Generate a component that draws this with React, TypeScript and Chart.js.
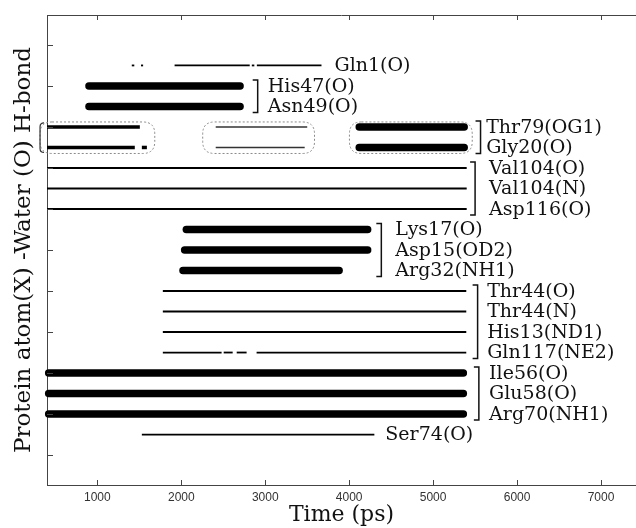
import { useEffect, useRef } from 'react';
import { Chart, registerables } from 'chart.js';

Chart.register(...registerables);

// Time axis (ps) and row tick positions
const xTicks = [1000, 2000, 3000, 4000, 5000, 6000, 7000];
const yTicks = [0, 2, 4, 6, 8, 10, 12, 14, 16, 18, 20];

// Protein atoms, top row first
const atoms = [
  'Gln1(O)', 'His47(O)', 'Asn49(O)', 'Thr79(OG1)', 'Gly20(O)',
  'Val104(O)', 'Val104(N)', 'Asp116(O)', 'Lys17(O)', 'Asp15(OD2)',
  'Arg32(NH1)', 'Thr44(O)', 'Thr44(N)', 'His13(ND1)', 'Gln117(NE2)',
  'Ile56(O)', 'Glu58(O)', 'Arg70(NH1)', 'Ser74(O)',
];

// H-bond lifetimes as [start, end] in ps
const gln1 = [[1410, 1440], [1520, 1545], [1920, 2815], [2840, 2870], [2900, 3670]];
const his47 = [[900, 2700]];
const asn49 = [[900, 2700]];
const thr79Early = [[400, 1506]];
const thr79Mid = [[2410, 3500]];
const thr79Late = [[4120, 5370]];
const gly20Early = [[400, 1446], [1530, 1590]];
const gly20Mid = [[2410, 3470]];
const gly20Late = [[4120, 5370]];
const val104O = [[400, 5400]];
const val104N = [[400, 5400]];
const asp116 = [[400, 5400]];
const lys17 = [[2060, 4220]];
const asp15 = [[2040, 4220]];
const arg32 = [[2020, 3880]];
const thr44O = [[1780, 5395]];
const thr44N = [[1780, 5395]];
const his13 = [[1780, 5395]];
const gln117 = [[1780, 2480], [2505, 2612], [2660, 2778], [2897, 5395]];
const ile56 = [[420, 5360]];
const glu58 = [[420, 5360]];
const arg70 = [[420, 5360]];
const ser74 = [[1530, 4300]];

type Weight = 'thin' | 'faint' | 'medium' | 'thick';

const traces: { atom: string; spans: number[][]; weight: Weight }[] = [
  { atom: 'Gln1(O)', spans: gln1, weight: 'thin' },
  { atom: 'His47(O)', spans: his47, weight: 'thick' },
  { atom: 'Asn49(O)', spans: asn49, weight: 'thick' },
  { atom: 'Thr79(OG1)', spans: thr79Early, weight: 'medium' },
  { atom: 'Thr79(OG1)', spans: thr79Mid, weight: 'faint' },
  { atom: 'Thr79(OG1)', spans: thr79Late, weight: 'thick' },
  { atom: 'Gly20(O)', spans: gly20Early, weight: 'medium' },
  { atom: 'Gly20(O)', spans: gly20Mid, weight: 'faint' },
  { atom: 'Gly20(O)', spans: gly20Late, weight: 'thick' },
  { atom: 'Val104(O)', spans: val104O, weight: 'thin' },
  { atom: 'Val104(N)', spans: val104N, weight: 'thin' },
  { atom: 'Asp116(O)', spans: asp116, weight: 'thin' },
  { atom: 'Lys17(O)', spans: lys17, weight: 'thick' },
  { atom: 'Asp15(OD2)', spans: asp15, weight: 'thick' },
  { atom: 'Arg32(NH1)', spans: arg32, weight: 'thick' },
  { atom: 'Thr44(O)', spans: thr44O, weight: 'thin' },
  { atom: 'Thr44(N)', spans: thr44N, weight: 'thin' },
  { atom: 'His13(ND1)', spans: his13, weight: 'thin' },
  { atom: 'Gln117(NE2)', spans: gln117, weight: 'thin' },
  { atom: 'Ile56(O)', spans: ile56, weight: 'thick' },
  { atom: 'Glu58(O)', spans: glu58, weight: 'thick' },
  { atom: 'Arg70(NH1)', spans: arg70, weight: 'thick' },
  { atom: 'Ser74(O)', spans: ser74, weight: 'thin' },
];

const strokes: Record<Weight, { width: number; color: string; cap: CanvasLineCap }> = {
  thin: { width: 1.8, color: '#000', cap: 'butt' },
  faint: { width: 1.4, color: '#333', cap: 'butt' },
  medium: { width: 3.5, color: '#000', cap: 'butt' },
  thick: { width: 7.5, color: '#000', cap: 'round' },
};

const rowOf = (atom: string) => atoms.length - atoms.indexOf(atom);

// Label groups with their bracket and text anchors (x in ps)
const labelGroups = [
  { members: ['Gln1(O)'], textX: 3825, bracketX: null as number | null },
  { members: ['His47(O)', 'Asn49(O)'], textX: 3030, bracketX: 2910 },
  { members: ['Thr79(OG1)', 'Gly20(O)'], textX: 5632, bracketX: 5565 },
  { members: ['Val104(O)', 'Val104(N)', 'Asp116(O)'], textX: 5667, bracketX: 5500 },
  { members: ['Lys17(O)', 'Asp15(OD2)', 'Arg32(NH1)'], textX: 4550, bracketX: 4383 },
  { members: ['Thr44(O)', 'Thr44(N)', 'His13(ND1)', 'Gln117(NE2)'], textX: 5644, bracketX: 5530 },
  { members: ['Ile56(O)', 'Glu58(O)', 'Arg70(NH1)'], textX: 5667, bracketX: 5545 },
  { members: ['Ser74(O)'], textX: 4431, bracketX: null },
];

// Rounded outlines grouping the Thr79/Gly20 episodes (x in ps)
const episodeBoxes = [
  { from: 317, to: 1684, solidLeft: true },
  { from: 2255, to: 3587, solidLeft: false },
  { from: 4003, to: 5466, solidLeft: false },
];

const SERIF = '"DejaVu Serif", "Liberation Serif", serif';
const SANS = '"Liberation Sans", Arial, sans-serif';

function roundedBox(ctx: CanvasRenderingContext2D, x0: number, y0: number, x1: number, y1: number, r: number) {
  ctx.beginPath();
  ctx.moveTo(x0 + r, y0);
  ctx.lineTo(x1 - r, y0);
  ctx.quadraticCurveTo(x1, y0, x1, y0 + r);
  ctx.lineTo(x1, y1 - r);
  ctx.quadraticCurveTo(x1, y1, x1 - r, y1);
  ctx.lineTo(x0 + r, y1);
  ctx.quadraticCurveTo(x0, y1, x0, y1 - r);
  ctx.lineTo(x0, y0 + r);
  ctx.quadraticCurveTo(x0, y0, x0 + r, y0);
  ctx.closePath();
}

const annotations = {
  id: 'annotations',
  afterDatasetsDraw(chart: any) {
    const { ctx, scales } = chart;
    const x = scales.x;
    const y = scales.y;
    ctx.save();

    // episode outlines
    const top = y.getPixelForValue(rowOf('Thr79(OG1)')) - 5;
    const bottom = y.getPixelForValue(rowOf('Gly20(O)')) + 6;
    for (const b of episodeBoxes) {
      const x0 = x.getPixelForValue(b.from);
      const x1 = x.getPixelForValue(b.to);
      ctx.setLineDash([2, 2]);
      ctx.strokeStyle = '#8a8a8a';
      ctx.lineWidth = 1;
      roundedBox(ctx, x0, top, x1, bottom, 12);
      ctx.stroke();
      if (b.solidLeft) {
        ctx.setLineDash([]);
        ctx.strokeStyle = '#333';
        ctx.lineWidth = 1.2;
        ctx.beginPath();
        ctx.moveTo(x0 + 4, top + 1);
        ctx.quadraticCurveTo(x0, top + 1, x0, top + 5);
        ctx.lineTo(x0, bottom - 5);
        ctx.quadraticCurveTo(x0, bottom - 1, x0 + 4, bottom - 1);
        ctx.stroke();
      }
    }
    ctx.setLineDash([]);

    // brackets and atom labels
    ctx.font = `19px ${SERIF}`;
    ctx.fillStyle = '#111';
    ctx.textBaseline = 'middle';
    ctx.textAlign = 'left';
    for (const g of labelGroups) {
      const tx = x.getPixelForValue(g.textX);
      for (const m of g.members) {
        ctx.fillText(m, tx, y.getPixelForValue(rowOf(m)) + 1);
      }
      if (g.bracketX !== null) {
        const bx = x.getPixelForValue(g.bracketX);
        const y0 = y.getPixelForValue(rowOf(g.members[0])) - 6;
        const y1 = y.getPixelForValue(rowOf(g.members[g.members.length - 1])) + 6;
        ctx.strokeStyle = '#111';
        ctx.lineWidth = 1.5;
        ctx.beginPath();
        ctx.moveTo(bx - 5, y0);
        ctx.lineTo(bx, y0);
        ctx.lineTo(bx, y1);
        ctx.lineTo(bx - 5, y1);
        ctx.stroke();
      }
    }
    ctx.restore();
  },
  afterDraw(chart: any) {
    const { ctx, chartArea: a, scales } = chart;
    ctx.save();
    ctx.strokeStyle = '#444';
    ctx.lineWidth = 1;
    // top frame
    ctx.beginPath();
    ctx.moveTo(a.left, a.top + 0.5);
    ctx.lineTo(a.right, a.top + 0.5);
    ctx.stroke();
    // inward tick marks
    ctx.beginPath();
    for (const t of scales.x.ticks) {
      const px = Math.round(scales.x.getPixelForValue(t.value)) + 0.5;
      ctx.moveTo(px, a.bottom);
      ctx.lineTo(px, a.bottom - 5);
      ctx.moveTo(px, a.top);
      ctx.lineTo(px, a.top + 5);
    }
    for (const t of scales.y.ticks) {
      const py = Math.round(scales.y.getPixelForValue(t.value)) + 0.5;
      ctx.moveTo(a.left, py);
      ctx.lineTo(a.left + 6, py);
    }
    ctx.stroke();
    ctx.restore();
  },
};

export default function App() {
  const ref = useRef<HTMLCanvasElement>(null);

  useEffect(() => {
    const datasets = traces.flatMap((t) =>
      t.spans.map(([a, b]) => ({
        data: [
          { x: a, y: rowOf(t.atom) },
          { x: b, y: rowOf(t.atom) },
        ],
        borderColor: strokes[t.weight].color,
        borderWidth: strokes[t.weight].width,
        borderCapStyle: strokes[t.weight].cap,
        pointRadius: 0,
        pointHoverRadius: 0,
        fill: false,
        tension: 0,
        clip: false as any,
      }))
    );

    const chart = new Chart(ref.current!, {
      type: 'line',
      data: { datasets },
      options: {
        animation: false,
        responsive: false,
        devicePixelRatio: 1,
        events: [],
        layout: { padding: { top: 15, right: 0, bottom: 0, left: 0 } },
        plugins: { legend: { display: false }, tooltip: { enabled: false } },
        scales: {
          x: {
            type: 'linear',
            position: 'bottom',
            min: 400,
            max: 7417,
            grid: { display: false, drawTicks: false },
            border: { display: true, color: '#444', width: 1 },
            afterBuildTicks: (s: any) => {
              s.ticks = xTicks.map((v) => ({ value: v }));
            },
            afterFit: (s: any) => {
              s.height = 43;
            },
            ticks: {
              autoSkip: false,
              maxRotation: 0,
              padding: 5,
              color: '#333',
              font: { family: SANS, size: 12 },
              callback: (v: any) => String(v),
            },
            title: {
              display: true,
              text: 'Time (ps)',
              color: '#111',
              font: { family: SERIF, size: 22 },
              padding: { top: 0, bottom: 0 },
            },
          },
          y: {
            type: 'linear',
            min: -1.46,
            max: 21.46,
            grid: { display: false, drawTicks: false },
            border: { display: true, color: '#444', width: 1 },
            afterBuildTicks: (s: any) => {
              s.ticks = yTicks.map((v) => ({ value: v }));
            },
            afterFit: (s: any) => {
              s.width = 47;
            },
            ticks: { display: false },
            title: {
              display: true,
              text: 'Protein atom(X) -Water (O) H-bond',
              color: '#111',
              font: { family: SERIF, size: 23 },
              padding: { top: 10, bottom: 0 },
            },
          },
        },
      },
      plugins: [annotations],
    });
    return () => chart.destroy();
  }, []);

  return (
    <div style={{ position: 'fixed', left: 0, top: 0, width: 636, height: 528, background: '#fff' }}>
      <canvas ref={ref} width={636} height={528} style={{ display: 'block' }} />
    </div>
  );
}
